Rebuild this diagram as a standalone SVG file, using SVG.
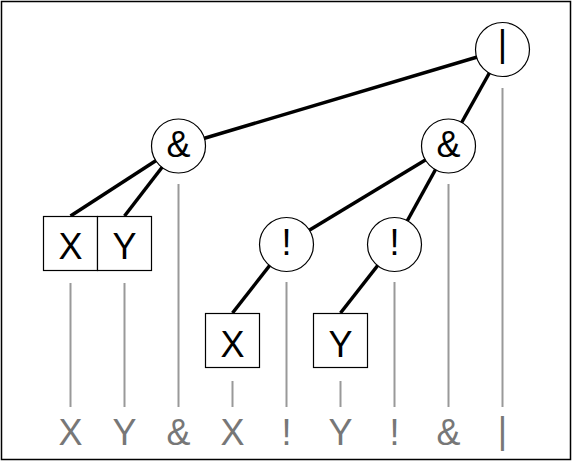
<svg xmlns="http://www.w3.org/2000/svg" width="572" height="461" viewBox="0 0 572 461">
<style>
.node{fill:#fff;stroke:#000;stroke-width:1.2}
.lbl{font-family:"Liberation Sans",Arial,sans-serif;font-size:36px;fill:#000;text-anchor:middle}
.edge{stroke:#000;stroke-width:3.5;fill:none}
.guide{stroke:#999;stroke-width:2;fill:none}
.out{font-family:"Liberation Sans",Arial,sans-serif;font-size:36px;fill:#777;text-anchor:middle}
</style>
<rect x="1.5" y="1.5" width="569" height="458" fill="#fff" stroke="#000" stroke-width="1.5"/>
<g id="guides">
<line class="guide" x1="70.5" y1="283" x2="70.5" y2="407"/>
<line class="guide" x1="124.5" y1="283" x2="124.5" y2="407"/>
<line class="guide" x1="178.5" y1="184" x2="178.5" y2="407"/>
<line class="guide" x1="232.5" y1="381" x2="232.5" y2="407"/>
<line class="guide" x1="286.5" y1="282" x2="286.5" y2="407"/>
<line class="guide" x1="340.5" y1="381" x2="340.5" y2="407"/>
<line class="guide" x1="394.5" y1="282" x2="394.5" y2="407"/>
<line class="guide" x1="448.5" y1="184" x2="448.5" y2="407"/>
<line class="guide" x1="502.5" y1="88" x2="502.5" y2="407"/>
</g>
<g id="connectors">
<line class="edge" x1="502.5" y1="49.5" x2="178.5" y2="146"/>
<line class="edge" x1="502.5" y1="49.5" x2="448.5" y2="146"/>
<line class="edge" x1="178.5" y1="146" x2="70.5" y2="216"/>
<line class="edge" x1="178.5" y1="146" x2="124.5" y2="216"/>
<line class="edge" x1="448.5" y1="146" x2="286.5" y2="244"/>
<line class="edge" x1="448.5" y1="146" x2="394.5" y2="244"/>
<line class="edge" x1="286.5" y1="244" x2="232.5" y2="313"/>
<line class="edge" x1="394.5" y1="244" x2="340.5" y2="313"/>
</g>
<g id="or">
<circle class="node" cx="502.5" cy="49.5" r="27"/>
<text class="lbl" x="502.5" y="56">|</text>
</g>
<g id="and1">
<circle class="node" cx="178.5" cy="146" r="27"/>
<text class="lbl" x="178.5" y="157">&amp;</text>
</g>
<g id="and2">
<circle class="node" cx="448.5" cy="146" r="27"/>
<text class="lbl" x="448.5" y="157">&amp;</text>
</g>
<g id="x1">
<rect class="node" x="43.5" y="216.5" width="54" height="54"/>
<text class="lbl" x="70.5" y="259">X</text>
</g>
<g id="y1">
<rect class="node" x="97.5" y="216.5" width="54" height="54"/>
<text class="lbl" x="124.5" y="259">Y</text>
</g>
<g id="not1">
<circle class="node" cx="286.5" cy="244.5" r="27"/>
<text class="lbl" x="286.5" y="255">!</text>
</g>
<g id="not2">
<circle class="node" cx="394.5" cy="244.5" r="27"/>
<text class="lbl" x="394.5" y="255">!</text>
</g>
<g id="x2">
<rect class="node" x="205.5" y="313.5" width="54" height="54"/>
<text class="lbl" x="232.5" y="357">X</text>
</g>
<g id="y2">
<rect class="node" x="313.5" y="313.5" width="54" height="54"/>
<text class="lbl" x="340.5" y="357">Y</text>
</g>
<g id="output">
<text class="out" x="70.5" y="445">X</text>
<text class="out" x="124.5" y="445">Y</text>
<text class="out" x="178.5" y="445">&amp;</text>
<text class="out" x="232.5" y="445">X</text>
<text class="out" x="286.5" y="445">!</text>
<text class="out" x="340.5" y="445">Y</text>
<text class="out" x="394.5" y="445">!</text>
<text class="out" x="448.5" y="445">&amp;</text>
<text class="out" x="502.5" y="443">|</text>
</g>
</svg>
